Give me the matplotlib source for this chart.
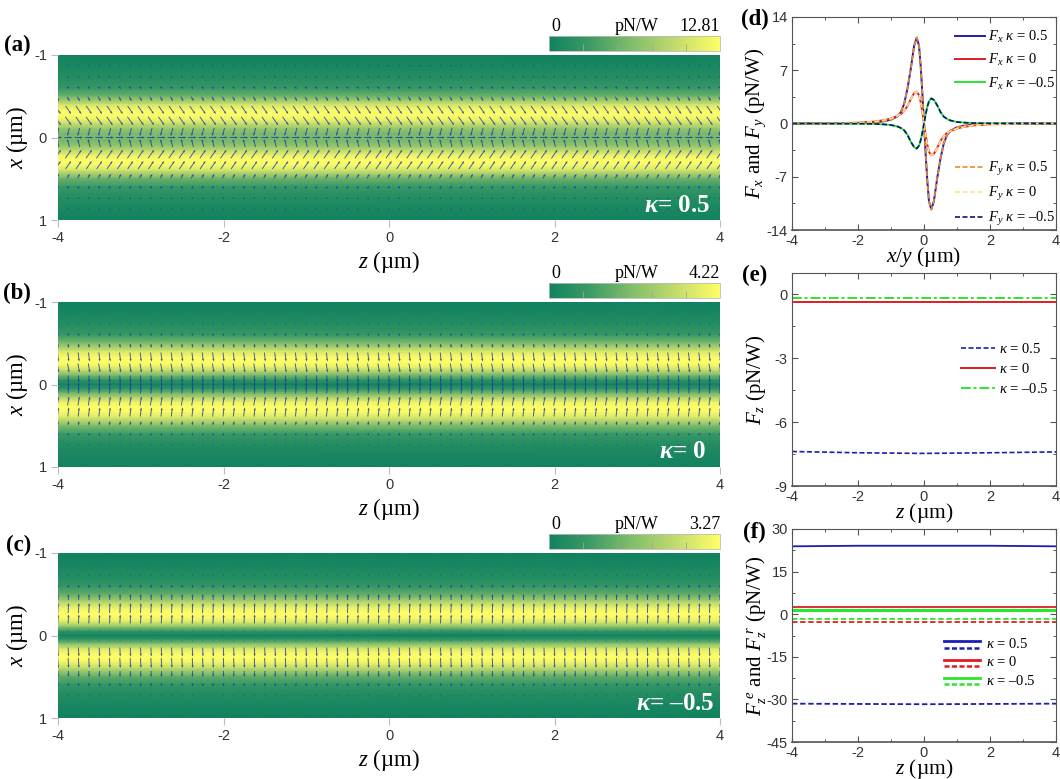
import numpy as np
import matplotlib
matplotlib.use("Agg")
import matplotlib.pyplot as plt
from matplotlib.colors import LinearSegmentedColormap, Normalize
from matplotlib.lines import Line2D
from matplotlib.legend_handler import HandlerBase
from matplotlib.cm import ScalarMappable

plt.rcParams["font.family"] = "Liberation Sans"
plt.rcParams["axes.unicode_minus"] = False
plt.rcParams["mathtext.fontset"] = "custom"
plt.rcParams["mathtext.rm"] = "Liberation Serif"
plt.rcParams["mathtext.it"] = "Liberation Serif:italic"
plt.rcParams["mathtext.bf"] = "Liberation Serif:bold"
plt.rcParams["mathtext.bfit"] = "Liberation Serif:italic:bold"

W, H = 1060, 779
SERIF = "Liberation Serif"
TICK_C = "#333333"
SPINE_C = "#555555"
CMAP = LinearSegmentedColormap.from_list(
    "gy", ["#11825f", "#3f9c66", "#86bf6c", "#c5dc6c", "#ffff66"])

# --- heat maps: force magnitude across the beam (pN/W) ---
PROFILE_X = [-1, -.9, -.8, -.7, -.6, -.5, -.4, -.33, -.28, -.22, -.16, -.1, -.05, 0,
             .05, .1, .16, .22, .28, .33, .4, .5, .6, .7, .8, .9, 1]
PROFILE_A = [0.1, 0.5, 1.0, 1.6, 2.6, 5.2, 10.2, 12.4, 12.8, 11.8, 9.4, 7.0, 6.0, 5.8,
             6.0, 7.0, 9.4, 11.8, 12.8, 12.4, 10.2, 5.2, 2.6, 1.6, 1.0, 0.5, 0.1]
PROFILE_B = [0.02, 0.12, 0.3, 0.5, 0.9, 2.0, 3.5, 4.1, 4.22, 3.9, 2.9, 1.7, 0.7, 0.05,
             0.7, 1.7, 2.9, 3.9, 4.22, 4.1, 3.5, 2.0, 0.9, 0.5, 0.3, 0.12, 0.02]
PROFILE_C = [0.02, 0.08, 0.2, 0.35, 0.6, 1.2, 2.3, 3.0, 3.27, 3.2, 2.7, 1.6, 0.6, 0.03,
             0.6, 1.6, 2.7, 3.2, 3.27, 3.0, 2.3, 1.2, 0.6, 0.35, 0.2, 0.08, 0.02]
VMAX = [12.81, 4.22, 3.27]

# --- arrows: rows across x, screen components per row (right, up) ---
ARROW_Z = [-4 + 0.125 * k for k in range(65)]
ARROW_X = [-1, -.867, -.733, -.6, -.467, -.333, -.2, -.067, 0,
           .067, .2, .333, .467, .6, .733, .867, 1]
ARROW_U_A = [.4, 1.5, 1.5, 1.5, 2.5, 5.5, 6, -2, 8, -2, 6, 5.5, 2.5, 1.5, 1.5, 1.5, .4]
ARROW_V_A = [-.4, -1, -1.5, -2.5, -4.5, -8, -8.5, -8, 0, 8, 8.5, 8, 4.5, 2.5, 1.5, 1, .4]
ARROW_U_B = [0, .3, .3, .3, .5, 1, 1.5, .5, 0, .5, 1.5, 1, .5, .3, .3, .3, 0]
ARROW_V_B = [-.4, -1, -1.5, -2.5, -4, -9, -9, -7, 5, 7, 9, 9, 4, 2.5, 1.5, 1, .4]
ARROW_U_C = [0, 0, 0, 0, 0, .4, .4, 0, 0, 0, .4, .4, 0, 0, 0, 0, 0]
ARROW_V_C = [.2, 1, 1.5, 3, 6, 10, 9, .5, 0, -.5, -9, -10, -6, -3, -1.5, -1, -.2]

# --- panel (d) ---
D_X = [-4, -3, -2, -1.5, -1.2, -1, -.8, -.7, -.6, -.5, -.4, -.3, -.22, -.15, -.1, -.05, 0,
       .05, .1, .15, .22, .3, .4, .5, .6, .7, .8, 1, 1.2, 1.5, 2, 3, 4]
D_P05 = [0, .02, .05, .15, .3, .5, .95, 1.5, 2.6, 4.6, 7.2, 10.2, 11.3, 10.2, 7.5, 4, 0,
         -4, -7.5, -10.2, -11.3, -10.2, -7.2, -4.6, -2.6, -1.5, -.95, -.5, -.3, -.15, -.05, -.02, 0]
D_0 = [0, .03, .1, .25, .45, .65, 1.0, 1.25, 1.65, 2.3, 3.2, 4.0, 4.2, 3.7, 2.8, 1.5, 0,
       -1.5, -2.8, -3.7, -4.2, -4.0, -3.2, -2.3, -1.65, -1.25, -1.0, -.65, -.45, -.25, -.1, -.03, 0]
D_M05 = [0, -.01, -.02, -.05, -.12, -.2, -.4, -.6, -.9, -1.5, -2.4, -3.1, -3.3, -2.9, -2.2, -1.2, 0,
         1.2, 2.2, 2.9, 3.3, 3.1, 2.4, 1.5, .9, .6, .4, .2, .12, .05, .02, .01, 0]

# --- panels (e), (f) ---
Z_LINE = [-4, -2, 0, 2, 4]
E_P05 = [-7.38, -7.44, -7.47, -7.44, -7.4]
E_0 = [-.35, -.35, -.35, -.35, -.35]
E_M05 = [-.18, -.18, -.18, -.18, -.18]
FE_P05 = [23.9, 24.1, 24.1, 24.1, 23.9]
FR_P05 = [-31.5, -31.6, -31.7, -31.6, -31.5]
FE_0 = [2.4, 2.4, 2.4, 2.4, 2.4]
FR_0 = [-2.8, -2.8, -2.8, -2.8, -2.8]
FE_M05 = [1.6, 1.6, 1.6, 1.6, 1.6]
FR_M05 = [-1.7, -1.7, -1.7, -1.7, -1.7]

BLUE, RED, GREEN = "#1a1fb0", "#e01c24", "#2ce62c"
ORANGE, PALE, NAVY = "#f08a28", "#f8e58c", "#10107a"


def px_axes(fig, l, t, r, b):
    return fig.add_axes([l / W, 1 - b / H, (r - l) / W, (b - t) / H])


class PairHandler(HandlerBase):
    """Solid line over dashed line, for the legend of panel (f)."""

    def create_artists(self, legend, orig, x0, y0, width, height, fontsize, trans):
        a = Line2D([x0, x0 + width], [y0 + height * 0.62] * 2, color=orig.get_color(),
                   lw=2.0, transform=trans)
        b = Line2D([x0, x0 + width], [y0 + height * 0.02] * 2, color=orig.get_color(),
                   lw=1.8, ls=(0, (2, 1)), transform=trans)
        return [a, b]


def heat_panel(fig, top, bottom, profile, vmax, u, v, kappa_txt, kappa_x, letter, lx, ly):
    ax = px_axes(fig, 58, top, 720, bottom)
    norm = Normalize(0, vmax)
    zz = np.array([-4, 4])
    xx = np.array(PROFILE_X)
    c = np.tile(np.array(profile)[:, None], (1, 2))
    ax.pcolormesh(zz, xx, c, cmap=CMAP, norm=norm, shading="gouraud")
    Z, X = np.meshgrid(ARROW_Z, ARROW_X)
    U = np.tile(np.array(u)[:, None], (1, len(ARROW_Z)))
    V = np.tile(np.array(v)[:, None], (1, len(ARROW_Z)))
    ax.quiver(Z, X, U, V, angles="uv", scale_units="dots", scale=1, units="dots",
              width=0.9, headwidth=2.6, headlength=3.2, headaxislength=2.8, pivot="mid",
              color="#2036ae", alpha=0.85, linewidth=0)
    ax.set_xlim(-4, 4)
    ax.set_ylim(1, -1)
    ax.set_xticks([-4, -2, 0, 2, 4])
    ax.set_yticks([-1, 0, 1])
    ax.tick_params(length=5, width=0.8, color="#bbbbbb", labelcolor=TICK_C, labelsize=10.5, pad=3)
    for s in ax.spines.values():
        s.set_visible(False)
    ax.set_xlabel(r"$z$ (µm)", family=SERIF, fontsize=16.5, labelpad=3)
    ax.set_ylabel(r"$x$ (µm)", family=SERIF, fontsize=16.5)
    ax.yaxis.set_label_coords((30 - 58) / 662, 0.5)
    fig.text(kappa_x / W, 1 - (bottom - 15) / H, kappa_txt, color="white", family=SERIF,
             fontsize=18, fontweight="bold", ha="center", va="center")
    fig.text(lx / W, 1 - ly / H, letter, family=SERIF, fontsize=16.5, fontweight="bold",
             ha="left", va="center")

    cax = px_axes(fig, 549, top - 19, 720, top - 4)
    cb = fig.colorbar(ScalarMappable(norm=norm, cmap=CMAP), cax=cax, orientation="horizontal")
    cb.set_ticks([vmax * f for f in (0.2, 0.4, 0.6, 0.8)])
    cb.ax.tick_params(direction="in", length=5, width=0.6, color="#99aa88", labelbottom=False)
    cb.outline.set_edgecolor("#bbbbbb")
    cb.outline.set_linewidth(0.6)
    for xf, txt, ha in [(0.012, "0", "left"), (0.515, "pN/W", "center"), (1.0, f"{vmax:.2f}", "right")]:
        cax.text(xf, 1.08, txt, transform=cax.transAxes, family=SERIF,
                 fontsize=13, ha=ha, va="bottom")
    return ax


def line_axes(fig, top, bottom, ylim, yticks, yminor, xlabel, ylabel, letter, lx, ly):
    ax = px_axes(fig, 792, top, 1056, bottom)
    ax.set_xlim(-4, 4)
    ax.set_ylim(*ylim)
    ax.set_xticks([-4, -2, 0, 2, 4])
    ax.set_xticks([-3, -1, 1, 3], minor=True)
    ax.set_yticks(yticks)
    ax.set_yticks(yminor, minor=True)
    ax.tick_params(which="major", direction="in", length=4, width=0.8, top=True, right=True,
                   color=SPINE_C, labelcolor=TICK_C, labelsize=10.5, pad=3)
    ax.tick_params(which="minor", direction="in", length=2.5, width=0.7, top=True, right=True,
                   color=SPINE_C)
    for s in ax.spines.values():
        s.set_color(SPINE_C)
        s.set_linewidth(0.8)
    ax.spines["bottom"].set_linewidth(1.2)
    ax.set_xlabel(xlabel, family=SERIF, fontsize=15.5, labelpad=-2.5)
    ax.set_ylabel(ylabel, family=SERIF, fontsize=15)
    ax.yaxis.set_label_coords((768 - 792) / 264, 0.5)
    fig.text(lx / W, 1 - ly / H, letter, family=SERIF, fontsize=16.5, fontweight="bold",
             ha="left", va="center")
    return ax


fig = plt.figure(figsize=(W / 100, H / 100), dpi=100)

heat_panel(fig, 55, 220, PROFILE_A, VMAX[0], ARROW_U_A, ARROW_V_A,
           r"$\mathbfit{\kappa}$= 0.5", 677, "(a)", 4, 45)
heat_panel(fig, 302, 467, PROFILE_B, VMAX[1], ARROW_U_B, ARROW_V_B,
           r"$\mathbfit{\kappa}$= 0", 683, "(b)", 3, 293)
heat_panel(fig, 553, 718, PROFILE_C, VMAX[2], ARROW_U_C, ARROW_V_C,
           r"$\mathbfit{\kappa}$= –0.5", 675, "(c)", 6, 545)

# panel (d)
axd = line_axes(fig, 17, 230, (-14, 14), [-14, -7, 0, 7, 14], [-10.5, -3.5, 3.5, 10.5],
                r"$x/y$ (µm)", r"$F_x$ and $F_y$ (pN/W)", "(d)", 741, 19)
for y, col in [(D_P05, BLUE), (D_0, RED), (D_M05, GREEN)]:
    axd.plot(D_X, y, color=col, lw=1.4)
for y, col in [(D_P05, ORANGE), (D_0, PALE), (D_M05, NAVY)]:
    axd.plot(D_X, y, color=col, lw=1.2, ls=(0, (3, 1.5)))
txt_d = [r"$\kappa$ = 0.5", r"$\kappa$ = 0", r"$\kappa$ = –0.5"]
leg_kw = dict(frameon=False, prop={"family": SERIF, "size": 10.5}, handlelength=2.05,
              handletextpad=0.2, labelspacing=0.5, borderpad=0, borderaxespad=0)
h1 = [Line2D([], [], color=c, lw=1.4) for c in (BLUE, RED, GREEN)]
l1 = axd.legend(h1, [r"$F_x$ " + t for t in txt_d], loc="upper left",
                bbox_to_anchor=(0.617, 0.945), **leg_kw)
axd.add_artist(l1)
h2 = [Line2D([], [], color=c, lw=1.2, ls=(0, (3, 1.5))) for c in (ORANGE, PALE, NAVY)]
axd.legend(h2, [r"$F_y$ " + t for t in txt_d], loc="upper left",
           bbox_to_anchor=(0.617, 0.33), **leg_kw)

# panel (e)
axe = line_axes(fig, 273, 486, (-9, 1), [-9, -6, -3, 0], [-7.5, -4.5, -1.5],
                r"$z$ (µm)", r"$F_z$ (pN/W)", "(e)", 742, 275)
le1, = axe.plot(Z_LINE, E_P05, color=BLUE, lw=1.2, ls=(0, (3, 1.5)))
le2, = axe.plot(Z_LINE, E_0, color=RED, lw=1.4)
le3, = axe.plot(Z_LINE, E_M05, color=GREEN, lw=1.4, ls=(0, (5, 1.5, 1.5, 1.5)))
axe.legend([le1, le2, le3], txt_d, loc="upper left", bbox_to_anchor=(0.64, 0.675),
           frameon=False, prop={"family": SERIF, "size": 10.5}, handlelength=2.3,
           handletextpad=0.3, labelspacing=0.4, borderpad=0, borderaxespad=0)

# panel (f)
axf = line_axes(fig, 529, 742, (-45, 30), [-45, -30, -15, 0, 15, 30],
                [-37.5, -22.5, -7.5, 7.5, 22.5],
                r"$z$ (µm)", r"$F_z^{\ e}$ and $F_z^{\ r}$ (pN/W)", "(f)", 743, 532)
for e_vals, r_vals, col in [(FE_P05, FR_P05, BLUE), (FE_0, FR_0, RED), (FE_M05, FR_M05, GREEN)]:
    axf.plot(Z_LINE, e_vals, color=col, lw=2.2 if col == GREEN else 1.3)
    axf.plot(Z_LINE, r_vals, color=col, lw=1.3, ls=(0, (3, 1.5)))
h3 = [Line2D([], [], color=c) for c in (BLUE, RED, GREEN)]
axf.legend(h3, txt_d, handler_map={Line2D: PairHandler()}, loc="upper left",
           bbox_to_anchor=(0.575, 0.494), frameon=False,
           prop={"family": SERIF, "size": 10.5}, handlelength=2.45, handletextpad=0.45,
           labelspacing=0.3, borderpad=0, borderaxespad=0)

fig.savefig("out.png", dpi=100)
